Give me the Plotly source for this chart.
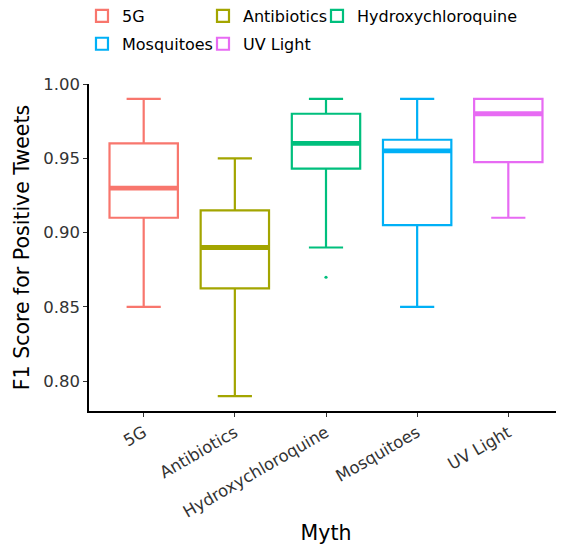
import plotly.graph_objects as go

myths = ["5G", "Antibiotics", "Hydroxychloroquine", "Mosquitoes", "UV Light"]
colors = ["#F8766D", "#A3A500", "#00BF7D", "#00B0F6", "#E76BF3"]
lower_whisker = [0.85, 0.79, 0.89, 0.85, 0.91]
q1 = [0.91, 0.8625, 0.943, 0.905, 0.9475]
median = [0.93, 0.89, 0.96, 0.955, 0.98]
q3 = [0.96, 0.915, 0.98, 0.9625, 0.99]
upper_whisker = [0.99, 0.95, 0.99, 0.99, 0.99]
outlier_myth = ["Hydroxychloroquine"]
outlier_value = [0.87]
y_ticks = [0.80, 0.85, 0.90, 0.95, 1.00]

# legend laid out in columns like ggplot's 3-column key
legend_of = {"5G": "legend", "Mosquitoes": "legend",
             "Antibiotics": "legend2", "UV Light": "legend2",
             "Hydroxychloroquine": "legend3"}

BOX_W = 0.75
fig = go.Figure()
for i, m in enumerate(myths):
    fig.add_trace(go.Box(
        x=[i], q1=[q1[i]], median=[median[i]], q3=[q3[i]],
        lowerfence=[lower_whisker[i]], upperfence=[upper_whisker[i]],
        width=BOX_W, fillcolor="white", line=dict(color=colors[i], width=2.2),
        boxpoints=False, name=m, legendgroup=m, legend=legend_of[m],
        hoverinfo="skip"))
for i, m in enumerate(myths):
    fig.add_trace(go.Scatter(
        x=[i - BOX_W / 2, i + BOX_W / 2], y=[median[i], median[i]],
        mode="lines", line=dict(color=colors[i], width=4.8),
        showlegend=False, legendgroup=m, hoverinfo="skip"))
for m, v in zip(outlier_myth, outlier_value):
    i = myths.index(m)
    fig.add_trace(go.Scatter(x=[i], y=[v], mode="markers",
                             marker=dict(color=colors[i], size=3.2),
                             showlegend=False, hoverinfo="skip"))

font = "DejaVu Sans"
leg_common = dict(orientation="v", xref="paper", yref="paper", xanchor="left",
                  yanchor="middle", font=dict(size=16, color="black"),
                  tracegroupgap=4, bgcolor="rgba(0,0,0,0)")
fig.update_layout(
    width=556, height=541,
    margin=dict(l=81, r=1, t=76, b=138, autoexpand=False),
    plot_bgcolor="white", paper_bgcolor="white",
    font=dict(family=font, size=16, color="black"),
    legend=dict(x=-0.0148, y=1.165, **leg_common),
    legend2=dict(x=0.2405, y=1.165, **leg_common),
    legend3=dict(x=0.481, y=1.208, **leg_common),
    xaxis=dict(range=[-0.6, 4.6], tickmode="array", tickvals=list(range(len(myths))),
               ticktext=myths, tickangle=-30, showline=True, linecolor="black",
               linewidth=1.5, ticks="outside", ticklen=4, tickcolor="#333",
               tickfont=dict(size=16.5, color="#333"), showgrid=False, zeroline=False,
               automargin=False,
               title=dict(text="Myth", font=dict(size=20.5), standoff=5)),
    yaxis=dict(range=[0.78, 1.0], tickmode="array", tickvals=y_ticks,
               ticktext=[f"{t:.2f}" for t in y_ticks], showline=True, linecolor="black",
               linewidth=1.5, ticks="outside", ticklen=4, tickcolor="#333",
               tickfont=dict(size=16.5, color="#333"), showgrid=False, zeroline=False,
               automargin=False,
               title=dict(text="F1 Score for Positive Tweets", font=dict(size=20.5), standoff=8)),
)
fig.write_html("out.html")
